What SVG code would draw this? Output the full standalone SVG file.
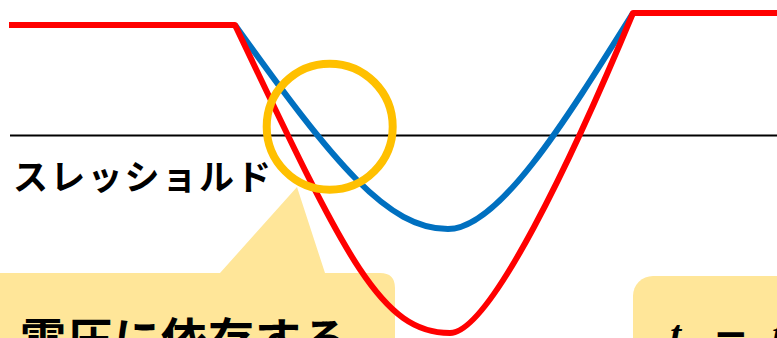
<svg xmlns="http://www.w3.org/2000/svg" width="777" height="338" viewBox="0 0 777 338">
  <style>
    .callout { fill: #FFE699; }
    .curve { fill: none; stroke-width: 6; stroke-linejoin: round; }
    .red { stroke: #FF0000; }
    .blue { stroke: #0070C0; }
    .jp { font-family: "Noto Sans CJK JP", "Noto Sans", sans-serif; font-weight: bold; fill: #000; }
    .math { font-family: "Liberation Serif", serif; font-weight: bold; fill: #000; }
  </style>
  <rect width="777" height="338" fill="#FFFFFF"/>

  <g id="callout-left">
    <path class="callout" d="M-10,273 L220,273 L297,187 L325,273 L380,273 Q395,273 395,288 L395,348 L-10,348 Z"/>
    <text class="jp" x="20" y="356" font-size="46" letter-spacing="1">電圧に依存する</text>
  </g>

  <g id="callout-right">
    <rect class="callout" x="633" y="276" width="180" height="90" rx="20" ry="20"/>
    <text class="math" font-size="40" y="348"><tspan x="670" font-style="italic">t</tspan><tspan x="713" font-family="DejaVu Sans" font-weight="bold" font-size="42">−</tspan><tspan x="772" font-style="italic">t</tspan></text>
  </g>

  <g id="threshold">
    <line x1="10" y1="135.5" x2="777" y2="135.5" stroke="#000" stroke-width="2"/>
    <text class="jp" x="13" y="190" font-size="35" letter-spacing="2.2">スレッショルド</text>
  </g>

  <g id="connectors">
    <path class="curve blue" d="M235,25 C335,165 388,229 448,229 C498,229 563,125 633,13"/>
    <path class="curve red" d="M9,25 L235,25 C345,256 380,333 450,333 C490,333 573,157 633,13 L777,13"/>
  </g>

  <g id="highlight-circle">
    <circle cx="329.7" cy="126.7" r="63" fill="none" stroke="#FFC000" stroke-width="8"/>
  </g>
</svg>
